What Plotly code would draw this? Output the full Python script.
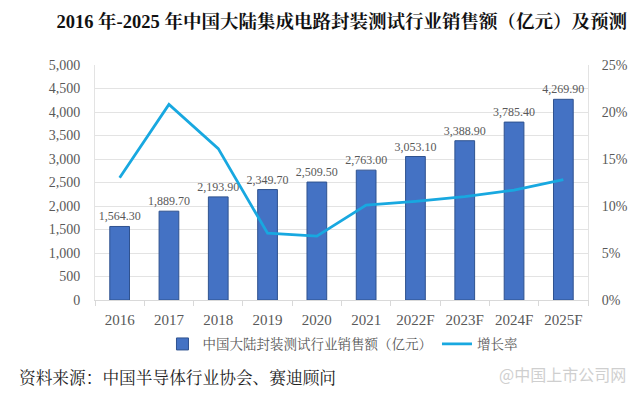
import plotly.graph_objects as go

years = ["2016", "2017", "2018", "2019", "2020", "2021", "2022F", "2023F", "2024F", "2025F"]
sales = [1564.3, 1889.7, 2193.9, 2349.7, 2509.5, 2763.0, 3053.1, 3388.9, 3785.4, 4269.9]
growth = [13.0, 20.8, 16.1, 7.1, 6.8, 10.1, 10.5, 11.0, 11.7, 12.8]
sales_labels = ["1,564.30", "1,889.70", "2,193.90", "2,349.70", "2,509.50", "2,763.00",
                "3,053.10", "3,388.90", "3,785.40", "4,269.90"]
left_ticks = list(range(0, 5001, 500))
right_ticks = [0, 5, 10, 15, 20, 25]
right_labels = [f"{v}%" for v in right_ticks]

serif = "Liberation Serif, Noto Serif CJK SC, Noto Sans CJK SC, serif"
gray = "#595959"

fig = go.Figure()
fig.add_trace(go.Bar(
    x=years, y=sales, name="中国大陆封装测试行业销售额（亿元）",
    marker=dict(color="#4472C4", line=dict(color="#2F528F", width=1)),
    text=sales_labels, textposition="outside", cliponaxis=False, constraintext="none",
    textfont=dict(family=serif, size=12, color=gray),
))
fig.add_trace(go.Scatter(
    x=years, y=growth, name="增长率", yaxis="y2", mode="lines",
    line=dict(color="#18A8E0", width=2.8),
))

fig.update_layout(
    width=632, height=386,
    margin=dict(l=87, r=52, t=57, b=94, autoexpand=False),
    paper_bgcolor="white", plot_bgcolor="white",
    bargap=0.6,
    showlegend=True,
    legend=dict(orientation="h", x=0.503, xanchor="center", y=-0.122, yanchor="top",
                font=dict(family=serif, size=13.5, color=gray), itemwidth=30,
                tracegroupgap=0),
    title=dict(text="<b>2016 年-2025 年中国大陆集成电路封装测试行业销售额（亿元）及预测</b>",
               xref="container", yref="container",
               x=0.528, xanchor="center", y=0.964, yanchor="middle",
               font=dict(family=serif, size=18.5, color="#111111")),
    xaxis=dict(tickfont=dict(family=serif, size=15, color=gray), showgrid=False,
               showline=True, linecolor="#D9D9D9", ticks="outside", ticklen=5,
               tickcolor="#D9D9D9", tickson="boundaries", automargin=False,
               ticklabelstandoff=6),
    yaxis=dict(range=[0, 5000], tickvals=left_ticks, tickformat=",",
               tickfont=dict(family=serif, size=14, color=gray), automargin=False,
               ticklabelstandoff=11,
               gridcolor="#E3E3E3", zeroline=False, showline=True, linecolor="#E3E3E3"),
    yaxis2=dict(range=[0, 25], tickvals=right_ticks, ticktext=right_labels,
                overlaying="y", side="right", automargin=False, ticklabelstandoff=10,
                tickfont=dict(family=serif, size=14, color=gray), showgrid=False,
                zeroline=False, showline=True, linecolor="#E3E3E3"),
    annotations=[
        dict(text="资料来源：中国半导体行业协会、赛迪顾问", xref="paper", yref="paper",
             x=-0.158, xanchor="left", y=-0.332, yanchor="middle", showarrow=False,
             font=dict(family=serif, size=16.7, color="#222222")),
        dict(text="@中国上市公司网", xref="paper", yref="paper",
             x=1.081, xanchor="right", y=-0.315, yanchor="middle", showarrow=False,
             font=dict(family="Noto Sans CJK SC", size=16, color="#CFCFCF")),
    ],
)

fig.write_html("out.html")
